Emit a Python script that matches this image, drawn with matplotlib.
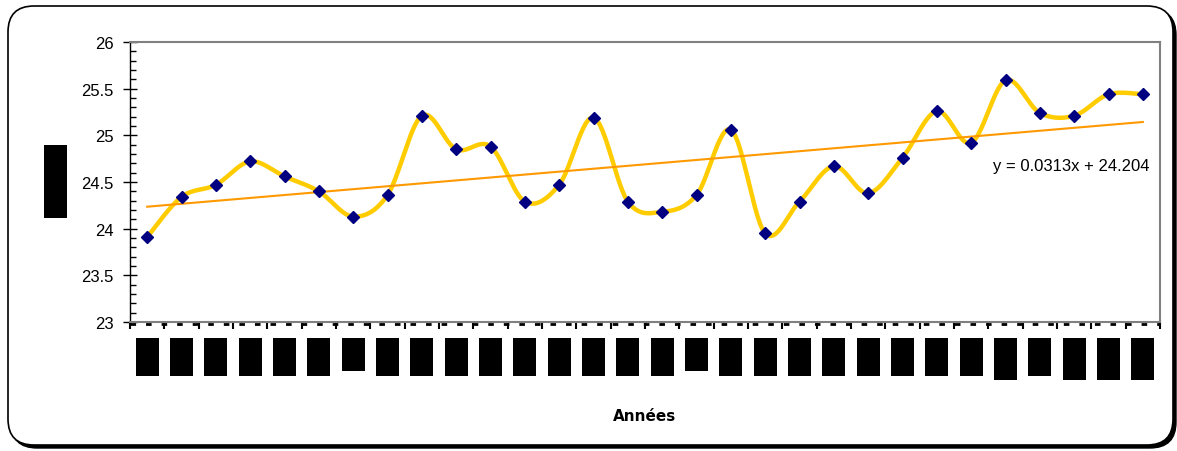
import numpy as np
import matplotlib
matplotlib.use("Agg")
import matplotlib.pyplot as plt
from matplotlib.patches import FancyBboxPatch, Rectangle
from matplotlib.transforms import IdentityTransform, blended_transform_factory, offset_copy
from matplotlib.ticker import MultipleLocator, FuncFormatter

# --- data -------------------------------------------------------------
years_idx = list(range(1, 31))
temperature = [23.91, 24.34, 24.47, 24.72, 24.56, 24.40, 24.13, 24.36, 25.21, 24.85,
               24.88, 24.29, 24.47, 25.19, 24.29, 24.18, 24.36, 25.06, 23.95, 24.29,
               24.67, 24.38, 24.76, 25.26, 24.92, 25.59, 25.24, 25.21, 25.44, 25.44]
trend_slope = 0.0313
trend_intercept = 24.204
equation_label = "y = 0.0313x + 24.204"
x_title = "Années"
y_ticks = [23, 23.5, 24, 24.5, 25, 25.5, 26]
# bottom edge (px from top) of each masked year label block
label_block_bottom = [377, 377, 377, 377, 377, 377, 372, 377, 377, 377,
                      377, 377, 377, 377, 377, 377, 372, 377, 377, 377,
                      377, 377, 377, 377, 377, 381, 377, 381, 381, 381]

W, H = 1177, 452
fig = plt.figure(figsize=(W / 100, H / 100), dpi=100)
fig.patch.set_facecolor("white")
plt.rcParams["font.family"] = ["Liberation Sans", "DejaVu Sans"]


def px_box(x0, y0, x1, y1):
    """Convert image-style pixel box (origin top-left) to display coords."""
    return x0, H - y1, x1 - x0, y1 - y0


# outer rounded frame with drop shadow
fx0, fy0, fx1, fy1 = 8, 7, 1173, 446
bx, by, bw, bh = px_box(fx0, fy0, fx1, fy1)
shadow = FancyBboxPatch((bx + 3, by - 3), bw, bh,
                        boxstyle="round,pad=0,rounding_size=26",
                        transform=IdentityTransform(), facecolor="black",
                        edgecolor="black", lw=1, zorder=-3)
frame = FancyBboxPatch((bx, by), bw, bh,
                       boxstyle="round,pad=0,rounding_size=26",
                       transform=IdentityTransform(), facecolor="white",
                       edgecolor="black", lw=1.2, zorder=-2)
fig.patches.extend([shadow, frame])

# plot area
ax_l, ax_r, ax_t, ax_b = 130, 1160, 43, 323
ax = fig.add_axes([ax_l / W, (H - ax_b) / H, (ax_r - ax_l) / W, (ax_b - ax_t) / H])
ax.set_facecolor("white")
ax.set_xlim(0.5, 30.5)
ax.set_ylim(23, 26)

for side in ("top", "right", "bottom"):
    ax.spines[side].set_color("#808080")
    ax.spines[side].set_linewidth(1.5)
ax.spines["left"].set_color("black")
ax.spines["left"].set_linewidth(1.0)

ax.yaxis.set_major_locator(MultipleLocator(0.5))
ax.yaxis.set_minor_locator(MultipleLocator(0.1))
ax.set_yticks(y_ticks)
ax.yaxis.set_major_formatter(FuncFormatter(lambda v, p: f"{v:g}"))
ax.tick_params(axis="y", which="major", direction="inout", length=10, width=1,
               labelsize=12, pad=7, colors="black")
ax.tick_params(axis="y", which="minor", direction="in", length=4, width=1, colors="black")

ax.set_xticks(np.arange(0.5, 31, 1.0))
ax.set_xticklabels([])
ax.tick_params(axis="x", which="major", direction="out", length=5, width=1.5, colors="black")

# dashed rule just beneath the category axis
dash_tr = offset_copy(ax.transAxes, fig=fig, y=-2, units="dots")
ax.plot([0, 1], [0, 0], transform=dash_tr, color="black", lw=2,
        dashes=(2, 3.6), clip_on=False, zorder=3)


# smoothed curve (cubic Bezier through the points, Catmull-Rom style tangents)
def smooth_curve(xs, ys, n=30):
    pts = np.column_stack([xs, ys]).astype(float)
    out = []
    m = len(pts)
    for i in range(m - 1):
        p0 = pts[i - 1] if i > 0 else pts[i]
        p1 = pts[i]
        p2 = pts[i + 1]
        p3 = pts[i + 2] if i + 2 < m else pts[i + 1]
        c1 = p1 + (p2 - p0) / 6.0
        c2 = p2 - (p3 - p1) / 6.0
        t = np.linspace(0, 1, n, endpoint=(i == m - 2))[:, None]
        seg = ((1 - t) ** 3) * p1 + 3 * ((1 - t) ** 2) * t * c1 \
            + 3 * (1 - t) * t ** 2 * c2 + t ** 3 * p2
        out.append(seg)
    out = np.vstack(out)
    return out[:, 0], out[:, 1]


sx, sy = smooth_curve(years_idx, temperature)
ax.plot(sx, sy, color="#FFCC00", lw=3.2, solid_capstyle="round", zorder=2)

# linear trend
tx = np.array([years_idx[0], years_idx[-1]], dtype=float)
ax.plot(tx, trend_slope * tx + trend_intercept, color="#FF9900", lw=1.5, zorder=3)

# data points
ax.plot(years_idx, temperature, linestyle="none", marker="D", markersize=6,
        color="#000080", zorder=4)

ax.text((993 - ax_l) / (ax_r - ax_l), (ax_b - 166.5) / (ax_b - ax_t), equation_label,
        transform=ax.transAxes, ha="left", va="center", fontsize=12, color="black")

# masked year labels under each category
blk_tr = blended_transform_factory(ax.transData, IdentityTransform())
for xi, yb in zip(years_idx, label_block_bottom):
    ax.add_patch(Rectangle((xi - 0.335, H - yb), 0.67, yb - 339,
                           transform=blk_tr, facecolor="black", edgecolor="none",
                           clip_on=False, zorder=5))

# masked vertical axis title
ybx, yby, ybw, ybh = px_box(44, 146, 67, 219)
fig.patches.append(Rectangle((ybx, yby), ybw, ybh, transform=IdentityTransform(),
                             facecolor="black", edgecolor="none", zorder=5))

fig.text(645 / W, (H - 417) / H, x_title, ha="center", va="center",
         fontsize=11, fontweight="bold", family=["DejaVu Sans"], color="black")

fig.savefig("out.png", dpi=100)
